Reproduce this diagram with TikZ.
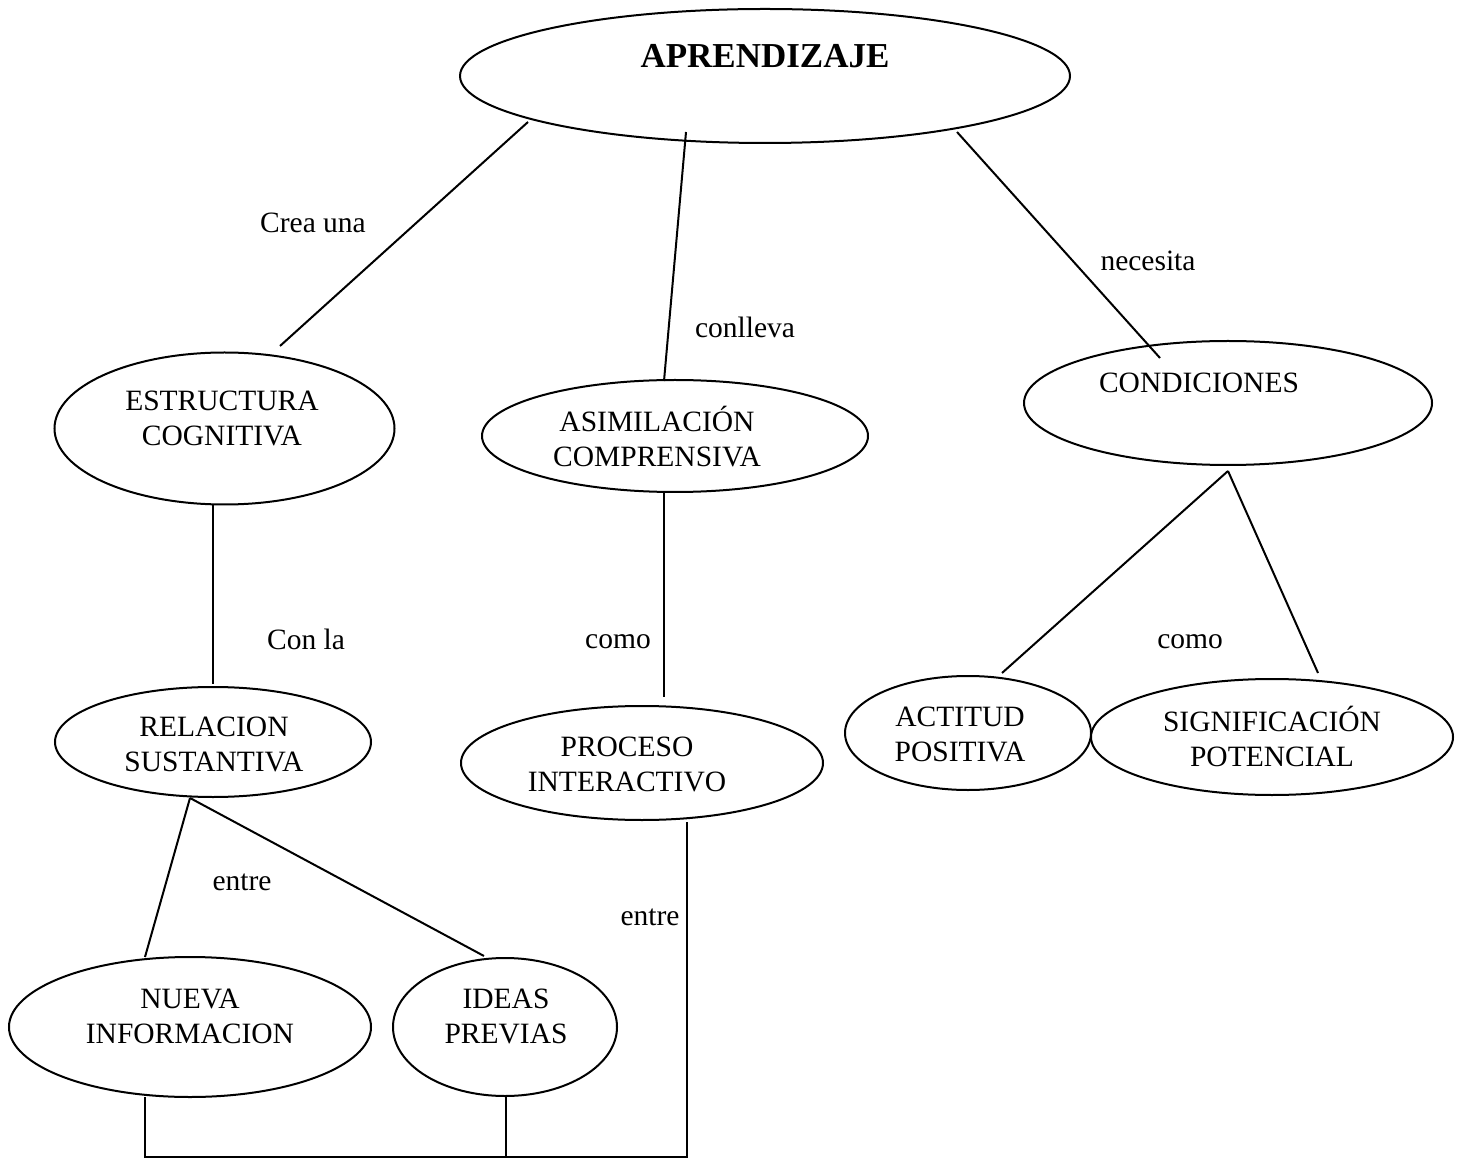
\documentclass[tikz,border=0pt]{standalone}
\usepackage{fontspec}
\setmainfont{Liberation Serif}
\usetikzlibrary{shapes.geometric,calc}
\begin{document}
\begin{tikzpicture}[x=0.5pt,y=-0.5pt,
  bubble/.style={draw, ellipse, line width=1pt, inner sep=0pt, outer sep=0pt},
  wtxt/.style={font=\fontsize{14.75pt}{17.5pt}\selectfont, align=center, inner sep=0pt},
  lbl/.style={font=\fontsize{14.75pt}{17.5pt}\selectfont, inner sep=0pt, anchor=base},
  link/.style={line width=1pt}]
% page
\fill[white] (0,0) rectangle (1465,1159);
\useasboundingbox (0,0) rectangle (1465,1159);

% concept bubbles (minimum width/height in pt = radii in px)
\node[bubble, minimum width=305pt, minimum height=67pt] (apr) at (765,76) {};
\node[bubble, minimum width=170pt, minimum height=76pt] (est) at (224.5,428.5) {};
\node[bubble, minimum width=193pt, minimum height=56pt] (asi) at (675,436) {};
\node[bubble, minimum width=204pt, minimum height=62pt] (con) at (1228,403) {};
\node[bubble, minimum width=158pt, minimum height=55pt] (rel) at (213,742) {};
\node[bubble, minimum width=181pt, minimum height=57pt] (pro) at (642,763) {};
\node[bubble, minimum width=123pt, minimum height=57pt] (act) at (968,733) {};
\node[bubble, minimum width=181pt, minimum height=58pt] (sig) at (1272,737) {};
\node[bubble, minimum width=181pt, minimum height=70pt] (nue) at (190,1027) {};
\node[bubble, minimum width=112pt, minimum height=69pt] (ide) at (505,1027) {};

% concept texts
\node[inner sep=0pt, anchor=base, font=\fontsize{17.5pt}{21pt}\bfseries\selectfont] (t-apr) at (765,68) {APRENDIZAJE};
\node[wtxt] (t-est) at (222,418.75) {ESTRUCTURA\\COGNITIVA};
\node[wtxt] (t-asi) at (657,436.6) {ASIMILACIÓN\\COMPRENSIVA};
\node[wtxt, anchor=base] (t-con) at (1199,393) {CONDICIONES};
\node[wtxt] (t-rel) at (214,744.75) {RELACION\\SUSTANTIVA};
\node[wtxt] (t-pro) at (627,764.75) {PROCESO\\INTERACTIVO};
\node[wtxt] (t-act) at (960,734.75) {ACTITUD\\POSITIVA};
\node[wtxt] (t-sig) at (1272,736.6) {SIGNIFICACIÓN\\POTENCIAL};
\node[wtxt] (t-nue) at (190,1016.75) {NUEVA\\INFORMACION};
\node[wtxt] (t-ide) at (506,1016.75) {IDEAS\\PREVIAS};

% linking words
\node[lbl] (l1) at (313,233) {Crea una};
\node[lbl] (l2) at (745,338) {conlleva};
\node[lbl] (l3) at (1148,271) {necesita};
\node[lbl] (l4) at (306,649) {Con la};
\node[lbl] (l5) at (618,648) {como};
\node[lbl] (l6) at (1190,648) {como};
\node[lbl] (l7) at (242,890) {entre};
\node[lbl] (l8) at (650,925) {entre};

% junction points
\coordinate (apex) at ($(con.center)+(0,68)$);
\coordinate (fork) at ($(rel.center)+(-23,56)$);
\coordinate (bus) at (687,1157);
\coordinate (nueb) at ($(nue.center)+(-45,70)$);
\coordinate (ideb) at ($(ide.center)+(1,69)$);
\coordinate (prob) at ($(pro.center)+(45,59)$);

% connectors
\draw[link] ($(apr.center)+(-237,46)$) -- ($(est.center)+(55.5,-82.5)$);
\draw[link] ($(apr.center)+(-79,56)$) -- ($(asi.center)+(-11,-55)$);
\draw[link] ($(apr.center)+(192,56)$) -- ($(con.center)+(-68,-45)$);
\draw[link] ($(est.center)+(-11.5,76.5)$) -- ($(rel.center)+(0,-58)$);
\draw[link] ($(asi.center)+(-11,56)$) -- ($(pro.center)+(22,-66)$);
\draw[link] (apex) -- ($(act.center)+(34,-60)$);
\draw[link] (apex) -- ($(sig.center)+(46,-64)$);
\draw[link] (fork) -- ($(nue.center)+(-45,-70)$);
\draw[link] (fork) -- ($(ide.center)+(-21,-71)$);
\draw[link] (nueb) |- (bus) -- (prob);
\draw[link] (ideb) -- (ideb |- bus);
\end{tikzpicture}
\end{document}
